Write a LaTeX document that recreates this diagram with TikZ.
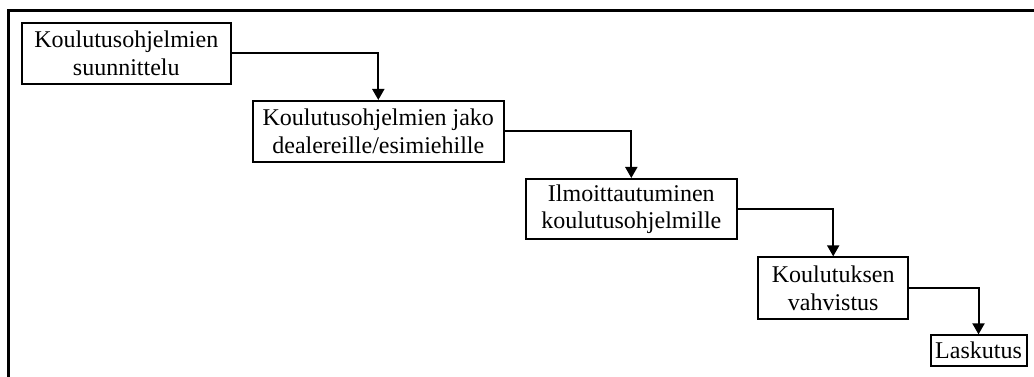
\documentclass[tikz,border=0pt]{standalone}
\usepackage{fontspec}
\setmainfont{Liberation Serif}
\usetikzlibrary{arrows.meta}
\begin{document}
\begin{tikzpicture}[x=0.75pt,y=-0.75pt,
  stepbox/.style={draw=black,line width=1.5pt,inner sep=0pt,align=center,
    font=\fontsize{18}{20.5}\selectfont},
  flow/.style={draw=black,line width=1.5pt,
    -{Triangle[length=8.25pt,width=9pt]}},
  frame/.style={draw=black,line width=2.25pt}]
\useasboundingbox (0,0) rectangle (1034,377);
% open frame: only top and left edges are visible
\draw[frame] (1040,10.5) -- (8.5,10.5) -- (8.5,385);
% process steps
\node[stepbox,minimum width=156.5pt,minimum height=46pt] (s1) at (126.3,53.3)
  {Koulutusohjelmien\\suunnittelu};
\node[stepbox,minimum width=188.5pt,minimum height=45.5pt] (s2) at (378.3,131.3)
  {Koulutusohjelmien jako\\dealereille/esimiehille};
\node[stepbox,minimum width=158.5pt,minimum height=45pt] (s3) at (631.3,209)
  {Ilmoittautuminen\\koulutusohjelmille};
\node[stepbox,minimum width=112.3pt,minimum height=46.3pt] (s4) at (833.2,288.2)
  {Koulutuksen\\vahvistus};
\node[stepbox,minimum width=72pt,minimum height=23pt] (s5) at (978.5,350.7)
  {Laskutus};
% connectors
\draw[flow] (s1.east) -| (s2.north);
\draw[flow] (s2.east) -| (s3.north);
\draw[flow] (s3.east) -| (s4.north);
\draw[flow] (s4.east) -| (s5.north);
\end{tikzpicture}
\end{document}
